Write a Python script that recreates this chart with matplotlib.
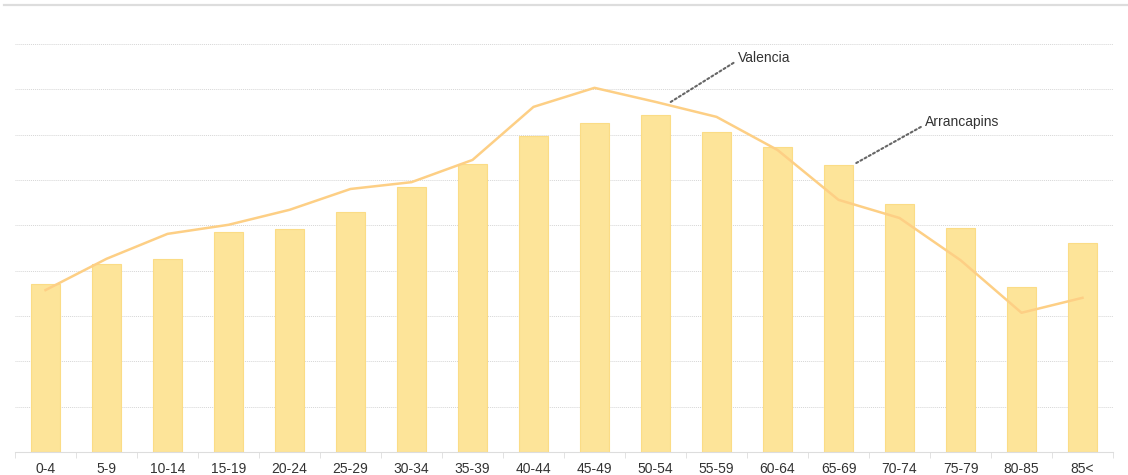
import numpy as np
import matplotlib.pyplot as plt
from matplotlib.lines import Line2D

plt.rcParams['font.family'] = ['Liberation Sans', 'DejaVu Sans']

age_groups = ['0-4', '5-9', '10-14', '15-19', '20-24', '25-29', '30-34', '35-39', '40-44',
              '45-49', '50-54', '55-59', '60-64', '65-69', '70-74', '75-79', '80-85', '85<']
arrancapins = [3.70, 4.15, 4.26, 4.85, 4.92, 5.29, 5.84, 6.35, 6.97,
               7.25, 7.43, 7.06, 6.73, 6.33, 5.47, 4.94, 3.64, 4.61]
valencia = [3.57, 4.26, 4.81, 5.01, 5.34, 5.80, 5.95, 6.44, 7.61,
            8.03, 7.72, 7.39, 6.66, 5.56, 5.16, 4.23, 3.07, 3.40]

W, H = 1128, 475
fig = plt.figure(figsize=(W / 100, H / 100), dpi=100)
ax = fig.add_axes([15 / W, 23 / H, 1098 / W, 447 / H])

x = np.arange(len(age_groups))
ax.bar(x, arrancapins, width=0.47, color='#fde499', edgecolor='#fbdc86', linewidth=0.8, zorder=2)
ax.plot(x, valencia, color='#fdcf85', linewidth=1.8, zorder=3)

ax.set_xlim(-0.5, len(age_groups) - 0.5)
ax.set_ylim(0, 447 / 45.35)

# dotted horizontal grid, no y labels
ax.set_yticks(np.arange(1, 10))
ax.yaxis.grid(True, linestyle=(0, (1, 1)), color='#d6d6d6', linewidth=0.7)
ax.tick_params(axis='y', left=False, labelleft=False)
ax.set_axisbelow(True)

ax.set_xticks(x)
ax.set_xticklabels(age_groups, fontsize=10, color='#333333')
ax.set_xticks(np.arange(-0.5, len(age_groups)), minor=True)
ax.tick_params(axis='x', which='major', length=0, pad=7)
ax.tick_params(axis='x', which='minor', length=4, color='#dddddd')

for side in ['top', 'left', 'right']:
    ax.spines[side].set_visible(False)
ax.spines['bottom'].set_color('#dddddd')

# header rule
fig.add_artist(Line2D([4 / W, 1.0], [1 - 5 / H, 1 - 5 / H], color='#dddddd', linewidth=1.6))

leader = dict(arrowstyle='-', color='#666666', linestyle=(0, (1, 1.3)), linewidth=1.5,
              shrinkA=1, shrinkB=2, relpos=(0, 0.3))

vx = 10.18
vy = np.interp(vx, x, valencia)
ax.annotate('Valencia', xy=(vx, vy), xytext=(71, 47), textcoords='offset pixels',
            fontsize=10, color='#333333', ha='left', va='center', arrowprops=leader)

bar_i = age_groups.index('65-69')
ax.annotate('Arrancapins', xy=(bar_i + 0.235, arrancapins[bar_i]), xytext=(72, 43),
            textcoords='offset pixels', fontsize=10, color='#333333', ha='left', va='center',
            arrowprops=leader)

fig.savefig('out.png', dpi=100, facecolor='white')
